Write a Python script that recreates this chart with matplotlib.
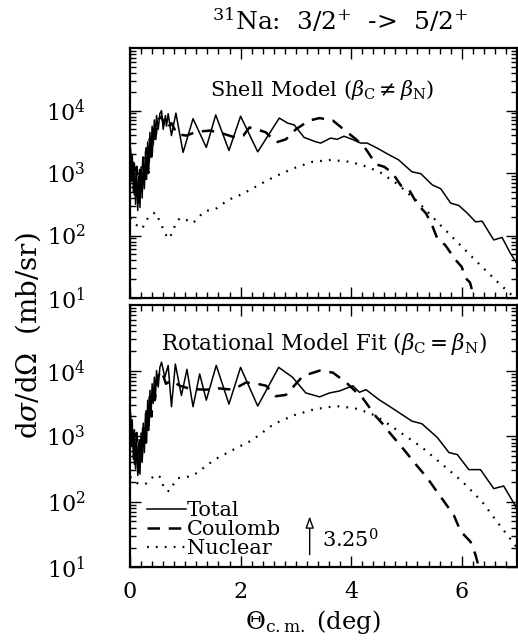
import numpy as np
import matplotlib
matplotlib.use("Agg")
import matplotlib.pyplot as plt
from matplotlib.ticker import MultipleLocator, LogLocator, NullFormatter, LogFormatterMathtext

plt.rcParams['font.family'] = ['DejaVu Serif']
plt.rcParams['mathtext.fontset'] = 'dejavuserif'

# values: angle (deg) and log10 of dsigma/dOmega (mb/sr)
# --- upper panel: shell model ---
sm_total_x = [0.00, 0.02, 0.04, 0.06, 0.08, 0.10, 0.12, 0.14, 0.16, 0.18, 0.20, 0.22, 0.24, 0.26,
              0.28, 0.30, 0.32, 0.34, 0.36, 0.38, 0.40, 0.42, 0.44, 0.46, 0.48, 0.51, 0.54, 0.57,
              0.60, 0.64, 0.66, 0.69, 0.75, 0.83, 0.96, 1.14, 1.38, 1.55, 1.79, 2.00, 2.31, 2.70,
              2.85, 2.97, 3.15, 3.36, 3.45, 3.63, 3.75, 3.87, 4.02, 4.17, 4.29, 4.47, 4.65, 4.86,
              5.10, 5.26, 5.47, 5.62, 5.80, 5.95, 6.10, 6.25, 6.37, 6.58, 6.73, 6.88, 7.00]
sm_total_log = [3.55, 2.95, 3.30, 2.70, 3.15, 2.50, 3.05, 2.40, 2.95, 2.45, 3.10, 2.60, 3.20, 2.75,
                3.35, 2.90, 3.50, 3.05, 3.65, 3.25, 3.75, 3.45, 3.85, 3.55, 3.92, 3.70, 3.95, 4.00,
                3.70, 3.92, 3.75, 3.95, 3.60, 3.96, 3.33, 3.87, 3.41, 3.93, 3.36, 3.91, 3.34, 3.88,
                3.80, 3.77, 3.57, 3.50, 3.48, 3.56, 3.54, 3.59, 3.54, 3.48, 3.48, 3.40, 3.31, 3.21,
                3.02, 2.99, 2.81, 2.75, 2.52, 2.48, 2.36, 2.22, 2.23, 1.93, 1.97, 1.72, 1.55]

sm_coul_x = [0.00, 0.03, 0.06, 0.09, 0.12, 0.15, 0.18, 0.21, 0.24, 0.27, 0.30, 0.33, 0.36, 0.39,
             0.42, 0.45, 0.50, 0.57, 0.65, 0.75, 0.85, 1.02, 1.20, 1.45, 1.65, 1.90, 2.05, 2.16,
             2.30, 2.46, 2.64, 2.82, 3.00, 3.24, 3.43, 3.67, 3.85, 4.09, 4.27, 4.45, 4.60, 4.75,
             4.90, 5.05, 5.20, 5.35, 5.45, 5.56, 5.70, 5.89, 6.00, 6.07, 6.15, 6.22, 6.26]
sm_coul_log = [3.40, 2.80, 3.20, 2.60, 3.10, 2.50, 3.05, 2.65, 3.25, 2.85, 3.40, 3.00, 3.55, 3.25,
               3.70, 3.50, 3.85, 3.90, 3.70, 3.80, 3.62, 3.60, 3.66, 3.68, 3.64, 3.57, 3.60, 3.73,
               3.70, 3.65, 3.49, 3.54, 3.70, 3.84, 3.88, 3.84, 3.71, 3.54, 3.38, 3.14, 3.10, 3.00,
               2.80, 2.73, 2.50, 2.36, 2.20, 1.95, 1.85, 1.61, 1.50, 1.32, 1.25, 1.02, 0.90]

sm_nuc_x = [0.00, 0.03, 0.15, 0.22, 0.30, 0.36, 0.46, 0.57, 0.63, 0.71, 0.78, 0.82, 0.90, 1.02,
            1.14, 1.23, 1.32, 1.44, 1.58, 1.68, 1.80, 1.92, 2.04, 2.19, 2.37, 2.61, 2.97, 3.30,
            3.63, 3.99, 4.29, 4.53, 4.71, 4.86, 5.23, 5.59, 5.95, 6.31, 6.67, 7.00]
sm_nuc_log = [2.28, 2.25, 2.14, 2.11, 2.25, 2.32, 2.37, 2.17, 2.03, 1.95, 2.08, 2.18, 2.28, 2.25,
              2.20, 2.28, 2.37, 2.41, 2.44, 2.51, 2.58, 2.62, 2.67, 2.74, 2.83, 2.94, 3.08, 3.18,
              3.21, 3.18, 3.10, 3.01, 2.90, 2.81, 2.52, 2.19, 1.87, 1.55, 1.24, 0.97]

# --- lower panel: rotational model fit ---
rm_total_x = [0.00, 0.02, 0.04, 0.06, 0.08, 0.10, 0.12, 0.14, 0.16, 0.18, 0.20, 0.22, 0.24, 0.26,
              0.28, 0.30, 0.32, 0.34, 0.36, 0.38, 0.40, 0.42, 0.44, 0.46, 0.48, 0.51, 0.54, 0.57,
              0.63, 0.69, 0.75, 0.82, 0.93, 1.03, 1.14, 1.26, 1.38, 1.56, 1.79, 2.00, 2.31, 2.69,
              2.94, 3.18, 3.43, 3.61, 3.79, 4.03, 4.15, 4.27, 4.50, 4.74, 5.10, 5.28, 5.56, 5.77,
              5.92, 6.13, 6.34, 6.58, 6.76, 6.97, 7.00]
rm_total_log = [3.50, 2.95, 3.25, 2.65, 3.10, 2.50, 3.00, 2.40, 2.90, 2.42, 3.05, 2.60, 3.20, 2.75,
                3.35, 2.90, 3.55, 3.10, 3.70, 3.30, 3.80, 3.50, 3.90, 3.60, 4.00, 3.75, 4.05, 4.13,
                3.90, 4.08, 3.45, 4.10, 3.62, 4.02, 3.45, 3.95, 3.55, 4.08, 3.49, 4.05, 3.46, 4.05,
                3.90, 3.66, 3.60, 3.66, 3.69, 3.77, 3.67, 3.71, 3.56, 3.43, 3.23, 3.19, 2.98, 2.75,
                2.72, 2.49, 2.49, 2.20, 2.24, 1.94, 1.88]

rm_coul_x = [0.00, 0.03, 0.06, 0.09, 0.12, 0.15, 0.18, 0.21, 0.24, 0.27, 0.30, 0.33, 0.36, 0.39,
             0.42, 0.45, 0.50, 0.57, 0.65, 0.75, 0.90, 1.10, 1.38, 1.60, 1.86, 2.10, 2.30, 2.46,
             2.64, 2.82, 3.13, 3.43, 3.67, 3.91, 4.21, 4.45, 4.59, 4.69, 4.95, 5.17, 5.38, 5.53,
             5.71, 5.86, 5.98, 6.16, 6.25, 6.31, 6.34]
rm_coul_log = [3.35, 2.80, 3.15, 2.55, 3.05, 2.45, 3.00, 2.60, 3.20, 2.85, 3.40, 3.05, 3.60, 3.30,
               3.75, 3.55, 3.90, 4.00, 3.80, 3.85, 3.77, 3.72, 3.71, 3.73, 3.71, 3.82, 3.80, 3.77,
               3.61, 3.63, 3.92, 4.00, 3.97, 3.82, 3.58, 3.30, 3.17, 3.06, 2.80, 2.57, 2.36, 2.18,
               1.97, 1.79, 1.55, 1.39, 1.19, 1.00, 0.90]

rm_nuc_x = [0.00, 0.03, 0.15, 0.30, 0.45, 0.54, 0.63, 0.71, 0.78, 0.87, 1.11, 1.23, 1.41, 1.59,
            1.77, 1.95, 2.19, 2.37, 2.61, 2.97, 3.33, 3.72, 4.05, 4.35, 4.56, 4.92, 5.28, 5.65,
            6.01, 6.37, 6.67, 6.91, 7.00]
rm_nuc_log = [2.38, 2.36, 2.27, 2.28, 2.41, 2.38, 2.18, 2.16, 2.26, 2.36, 2.39, 2.45, 2.57, 2.67,
              2.75, 2.83, 2.93, 3.04, 3.19, 3.32, 3.41, 3.46, 3.43, 3.35, 3.25, 3.04, 2.83, 2.57,
              2.31, 2.00, 1.66, 1.40, 1.30]

arrow_angle = 3.25

fig = plt.figure(figsize=(5.18, 6.41), dpi=100)
ax1 = fig.add_axes([0.251, 0.535, 0.747, 0.390])
ax2 = fig.add_axes([0.251, 0.115, 0.747, 0.409])

panels = [
    (ax1, sm_total_x, sm_total_log, sm_coul_x, sm_coul_log, sm_nuc_x, sm_nuc_log),
    (ax2, rm_total_x, rm_total_log, rm_coul_x, rm_coul_log, rm_nuc_x, rm_nuc_log),
]
for ax, tx, ty, cx, cy, nx, ny in panels:
    ax.plot(tx, 10 ** np.array(ty), color='black', lw=1.1, label='Total')
    ax.plot(cx, 10 ** np.array(cy), color='black', lw=1.8, ls=(0, (5, 3.5)), label='Coulomb')
    ax.plot(nx, 10 ** np.array(ny), color='black', lw=1.6, ls=(0, (0.8, 3.2)), label='Nuclear')
    ax.set_yscale('log')
    ax.set_xlim(0, 7)
    ax.set_ylim(10, 1e5)
    ax.xaxis.set_major_locator(MultipleLocator(2))
    ax.xaxis.set_minor_locator(MultipleLocator(0.2))
    ax.set_yticks([10, 100, 1000, 10000])
    ax.yaxis.set_minor_locator(LogLocator(base=10, subs=np.arange(2, 10), numticks=10))
    ax.yaxis.set_minor_formatter(NullFormatter())
    ax.yaxis.set_major_formatter(LogFormatterMathtext())
    ax.tick_params(which='both', direction='in', top=True, right=True, labelsize=16, width=1)
    ax.tick_params(axis='y', pad=32)
    ax.tick_params(axis='x', pad=10)
    ax.tick_params(which='major', length=8)
    ax.tick_params(which='minor', length=4)
    for s in ax.spines.values():
        s.set_linewidth(1.6)

ax1.tick_params(labelbottom=False)

ax1.text(3.48, 10 ** 4.33, r'Shell Model ($\beta_{\rm C}\neq\beta_{\rm N}$)', ha='center', va='center', fontsize=15)
ax2.text(3.5, 10 ** 4.42, r'Rotational Model Fit ($\beta_{\rm C}=\beta_{\rm N}$)', ha='center', va='center', fontsize=15.5)

ax2.legend(loc='lower left', bbox_to_anchor=(0.005, -0.02), frameon=False, fontsize=15,
           handlelength=1.9, handletextpad=0.05, labelspacing=0.0, borderpad=0.2)

ax2.annotate('', xy=(arrow_angle, 10 ** 1.82), xytext=(arrow_angle, 10 ** 1.15),
             arrowprops=dict(arrowstyle='-|>,head_length=0.7,head_width=0.25', ec='black',
                             fc='white', lw=1.0))
ax2.text(arrow_angle + 0.22, 10 ** 1.42, r'3.25$^0$', ha='left', va='center', fontsize=15)

fig.text(340 / 518, 1 - 20 / 641, r'$^{31}$Na:  3/2$^{+}$  ->  5/2$^{+}$', ha='center', va='center', fontsize=18)
fig.text(28 / 518, 0.477, r'd$\sigma$/d$\Omega$  (mb/sr)', rotation=90, ha='center', va='center', fontsize=20)
fig.text(313 / 518, 1 - 622 / 641, r'$\Theta_{\rm c.m.}$ (deg)', ha='center', va='center', fontsize=17.5)

fig.savefig('out.png', dpi=100)
